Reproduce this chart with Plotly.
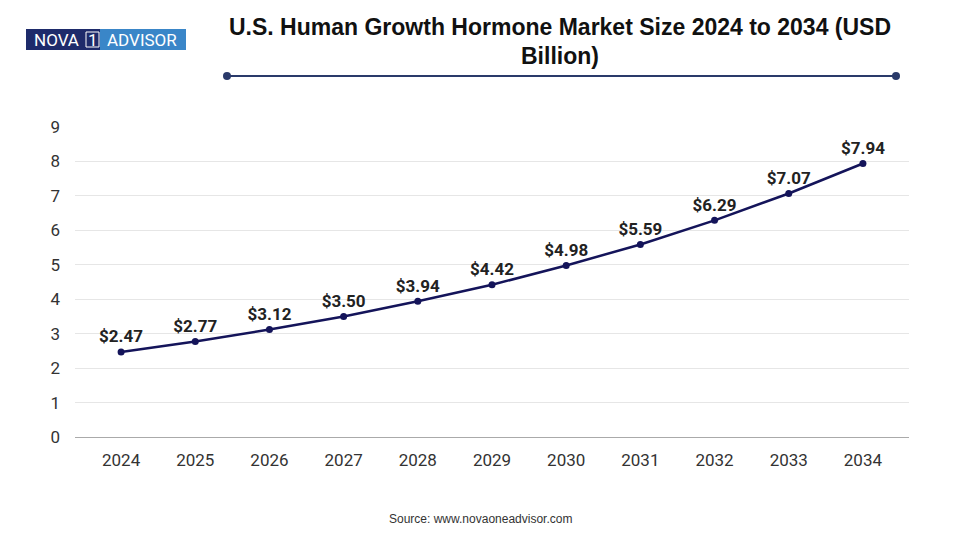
import plotly.graph_objects as go

years = ['2024', '2025', '2026', '2027', '2028', '2029', '2030', '2031', '2032', '2033', '2034']
market_size = [2.47, 2.77, 3.12, 3.50, 3.94, 4.42, 4.98, 5.59, 6.29, 7.07, 7.94]
labels = ['$' + f'{v:.2f}' for v in market_size]

navy = '#14145a'
deco = '#2a3a6a'

# margins; the page adds an 8px offset, px/py convert target pixels to paper coords
ml, mr, mt, mb = 67, 59, 119, 111
pw, ph = 960 - ml - mr, 540 - mt - mb
def px(x):
    return (x - 8 - ml) / pw
def py(y):
    return (540 - mb - (y - 8)) / ph

fig = go.Figure()
fig.add_trace(go.Scatter(
    x=years, y=market_size, mode='lines+markers+text',
    line=dict(color=navy, width=2.5),
    marker=dict(color=navy, size=7),
    text=labels, textposition='top center',
    textfont=dict(family='Roboto', size=17, color='#222222', weight='bold'),
    cliponaxis=False, showlegend=False
))

logo_font = dict(family='Roboto', size=17, color='white')
title_font = dict(family='Arial', size=23, color='#111111')

fig.update_layout(
    width=960, height=540,
    plot_bgcolor='white', paper_bgcolor='white',
    margin=dict(l=ml, r=mr, t=mt, b=mb),
    font=dict(family='Roboto', color='#333333'),
    xaxis=dict(showgrid=False, showline=True, linecolor='#aaaaaa', ticks='',
               tickfont=dict(size=17, color='#333333'), ticklabelstandoff=8),
    yaxis=dict(range=[0, 9], dtick=1, showgrid=True, gridcolor='#e6e6e6',
               zeroline=False, tickfont=dict(size=17, color='#333333'), ticklabelstandoff=14),
)

# decorative rule under the title
fig.add_shape(type='line', xref='paper', yref='paper', x0=px(227), x1=px(896), y0=py(76), y1=py(76),
              line=dict(color=deco, width=2))
for cx in (227, 896):
    fig.add_shape(type='circle', xref='paper', yref='paper', x0=px(cx - 4), x1=px(cx + 4),
                  y0=py(80), y1=py(72), fillcolor=deco, line=dict(width=0))

# logo
fig.add_shape(type='rect', xref='paper', yref='paper', x0=px(26), x1=px(100), y0=py(50), y1=py(29),
              fillcolor='#1e2b6b', line=dict(width=0))
fig.add_shape(type='rect', xref='paper', yref='paper', x0=px(100), x1=px(186), y0=py(50), y1=py(29),
              fillcolor='#3a86c8', line=dict(width=0))
fig.add_shape(type='rect', xref='paper', yref='paper', x0=px(86), x1=px(99), y0=py(47), y1=py(32),
              line=dict(color='white', width=1))
for txt, cx in (('NOVA', 56), ('1', 92.5), ('ADVISOR', 142)):
    fig.add_annotation(text=txt, xref='paper', yref='paper', x=px(cx), y=py(39.5),
                       xanchor='center', yanchor='middle', showarrow=False, font=logo_font)

# title and source
fig.add_annotation(text='<b>U.S. Human Growth Hormone Market Size 2024 to 2034 (USD</b>',
                   xref='paper', yref='paper', x=px(560), y=py(27),
                   xanchor='center', yanchor='middle', showarrow=False, font=title_font)
fig.add_annotation(text='<b>Billion)</b>', xref='paper', yref='paper', x=px(560), y=py(56),
                   xanchor='center', yanchor='middle', showarrow=False, font=title_font)
fig.add_annotation(text='Source: www.novaoneadvisor.com', xref='paper', yref='paper',
                   x=px(480), y=py(519), xanchor='center', yanchor='middle', showarrow=False,
                   font=dict(family='Arial', size=12, color='#333333'))

fig.write_html('out.html')
